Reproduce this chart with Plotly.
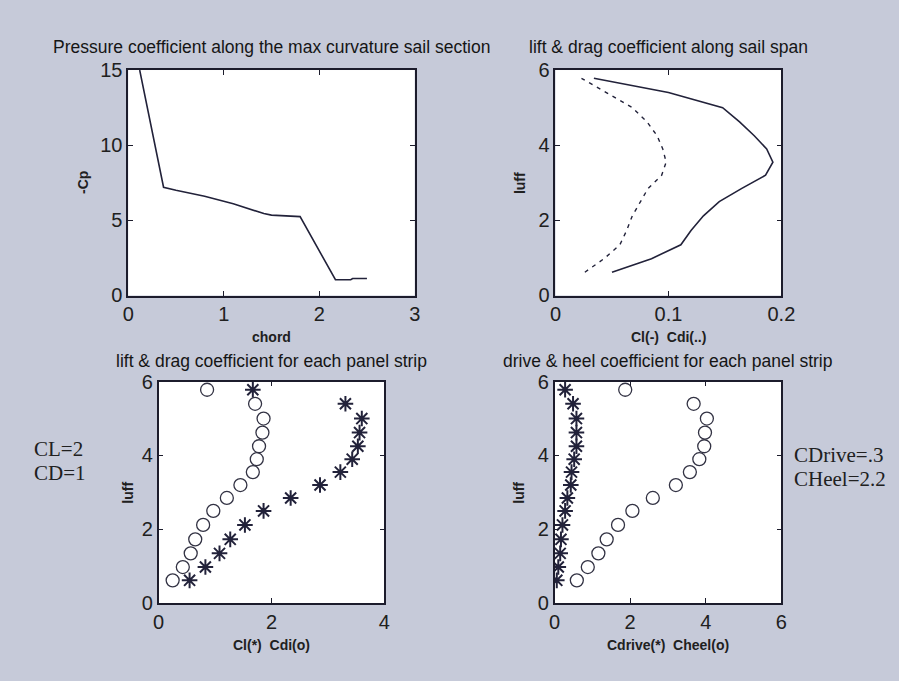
import plotly.graph_objects as go

W, H = 899, 681

# ---------------- data ----------------
chord = [0.12, 0.37, 0.5, 0.8, 1.1, 1.42, 1.5, 1.8, 2.17, 2.33, 2.35, 2.5]
neg_cp = [15.0, 7.2, 7.0, 6.6, 6.1, 5.45, 5.35, 5.25, 1.05, 1.05, 1.13, 1.13]

luff = [0.62, 0.98, 1.35, 1.73, 2.12, 2.5, 2.85, 3.2, 3.55, 3.9, 4.25, 4.62, 5.0, 5.4, 5.78]
cl_span = [0.050, 0.085, 0.111, 0.120, 0.131, 0.145, 0.165, 0.186, 0.1925, 0.187, 0.176, 0.163, 0.148, 0.100, 0.034]
cdi_span = [0.026, 0.043, 0.057, 0.063, 0.068, 0.075, 0.082, 0.094, 0.098, 0.095, 0.090, 0.081, 0.068, 0.045, 0.023]

cl_strip = [0.55, 0.83, 1.08, 1.27, 1.53, 1.86, 2.34, 2.86, 3.22, 3.43, 3.53, 3.56, 3.60, 3.31, 1.67]
cdi_strip = [0.25, 0.43, 0.57, 0.65, 0.79, 0.97, 1.21, 1.45, 1.67, 1.74, 1.78, 1.84, 1.86, 1.71, 0.86]

cdrive_strip = [0.06, 0.10, 0.15, 0.17, 0.21, 0.28, 0.34, 0.43, 0.45, 0.52, 0.58, 0.58, 0.58, 0.49, 0.28]
cheel_strip = [0.59, 0.88, 1.16, 1.38, 1.68, 2.06, 2.60, 3.21, 3.58, 3.83, 3.96, 3.98, 4.03, 3.68, 1.87]

titles = ["Pressure coefficient along the max curvature sail section",
          "lift & drag coefficient along sail span",
          "lift & drag coefficient for each panel strip",
          "drive & heel coefficient for each panel strip"]
xlabels = ["chord", "Cl(-)  Cdi(..)", "Cl(*)  Cdi(o)", "Cdrive(*)  Cheel(o)"]
ylabels = ["-Cp", "luff", "luff", "luff"]
left_notes = ["CL=2", "CD=1"]
right_notes = ["CDrive=.3", "CHeel=2.2"]

# ---------------- style ----------------
BG = "#c6cad9"
INK = "#1c1c2c"
LINE = "#22223a"


def fx(px):
    return px / W


def fy(py):
    return 1 - py / H


# pixel boxes (left, right, top, bottom)
boxes = [(125, 418, 61, 294), (562, 793, 61, 294), (156, 387, 383, 612), (561, 793, 383, 612)]

fig = go.Figure()

fig.add_trace(go.Scatter(x=chord, y=neg_cp, mode="lines", line=dict(color=LINE, width=1.6),
                         xaxis="x", yaxis="y", showlegend=False))
fig.add_trace(go.Scatter(x=cl_span, y=luff, mode="lines", line=dict(color=LINE, width=1.6),
                         xaxis="x2", yaxis="y2", showlegend=False))
fig.add_trace(go.Scatter(x=cdi_span, y=luff, mode="lines", line=dict(color=LINE, width=1.4, dash="4px,5px"),
                         xaxis="x2", yaxis="y2", showlegend=False))
star = dict(symbol="asterisk-open", size=13, color=LINE, line=dict(color=LINE, width=2))
ring = dict(symbol="circle-open", size=13, color="#333344", line=dict(color="#333344", width=1.3))
fig.add_trace(go.Scatter(x=cl_strip, y=luff, mode="markers", marker=star,
                         xaxis="x3", yaxis="y3", showlegend=False))
fig.add_trace(go.Scatter(x=cdi_strip, y=luff, mode="markers", marker=ring,
                         xaxis="x3", yaxis="y3", showlegend=False))
fig.add_trace(go.Scatter(x=cdrive_strip, y=luff, mode="markers", marker=star,
                         xaxis="x4", yaxis="y4", showlegend=False))
fig.add_trace(go.Scatter(x=cheel_strip, y=luff, mode="markers", marker=ring,
                         xaxis="x4", yaxis="y4", showlegend=False))

ranges = [([0, 3], 1, [0, 15], 5), ([0, 0.2], 0.1, [0, 6], 2), ([0, 4], 2, [0, 6], 2), ([0, 6], 2, [0, 6], 2)]

axis_common = dict(showline=True, linecolor=INK, linewidth=1.5, mirror="ticks", ticks="inside",
                   ticklen=5, tickwidth=1.3, tickcolor=INK, showgrid=False, zeroline=False,
                   tickfont=dict(family="Liberation Sans, Arial", size=20, color="#202020"),
                   fixedrange=True)

layout = dict(width=W, height=H, margin=dict(l=0, r=0, t=0, b=0),
              paper_bgcolor=BG, plot_bgcolor="white", showlegend=False)

for i, ((l, r, t, b), (xr, xd, yr, yd)) in enumerate(zip(boxes, ranges)):
    sfx = "" if i == 0 else str(i + 1)
    layout["xaxis" + sfx] = dict(domain=[fx(l), fx(r)], range=xr, dtick=xd, tick0=0,
                                 anchor="y" + sfx, **axis_common)
    layout["yaxis" + sfx] = dict(domain=[fy(b), fy(t)], range=yr, dtick=yd, tick0=0,
                                 anchor="x" + sfx, **axis_common)

fig.update_layout(**layout)

ann = []
title_y = [37, 37, 362, 362]
xlabel_y = [337, 337, 655, 655]
ylabel_x = [79, 525, 125, 525]
for i, (l, r, t, b) in enumerate(boxes):
    cx = (l + r) / 2
    ann.append(dict(text=titles[i], x=fx(cx), y=fy(title_y[i]), xref="paper", yref="paper",
                    xanchor="center", yanchor="middle", showarrow=False,
                    font=dict(family="Liberation Sans, Arial", size=17.5, color="#151515")))
    ann.append(dict(text="<b>" + xlabels[i] + "</b>", x=fx(cx), y=fy(xlabel_y[i]), xref="paper", yref="paper",
                    xanchor="center", yanchor="middle", showarrow=False,
                    font=dict(family="Liberation Sans, Arial", size=14, color="#202020")))
    ann.append(dict(text="<b>" + ylabels[i] + "</b>", x=fx(ylabel_x[i]), y=fy((t + b) / 2), xref="paper", yref="paper",
                    xanchor="center", yanchor="middle", showarrow=False, textangle=-90,
                    font=dict(family="Liberation Sans, Arial", size=14, color="#202020")))

for txt, py in zip(left_notes, [453, 477]):
    ann.append(dict(text=txt, x=fx(27), y=fy(py), xref="paper", yref="paper", xanchor="left",
                    yanchor="middle", showarrow=False,
                    font=dict(family="Liberation Serif, Times New Roman", size=21, color="#202020")))
for txt, py in zip(right_notes, [459, 484]):
    ann.append(dict(text=txt, x=fx(804), y=fy(py), xref="paper", yref="paper", xanchor="left",
                    yanchor="middle", showarrow=False,
                    font=dict(family="Liberation Serif, Times New Roman", size=21, color="#202020")))

fig.update_layout(annotations=ann)

fig.write_html("out.html")
